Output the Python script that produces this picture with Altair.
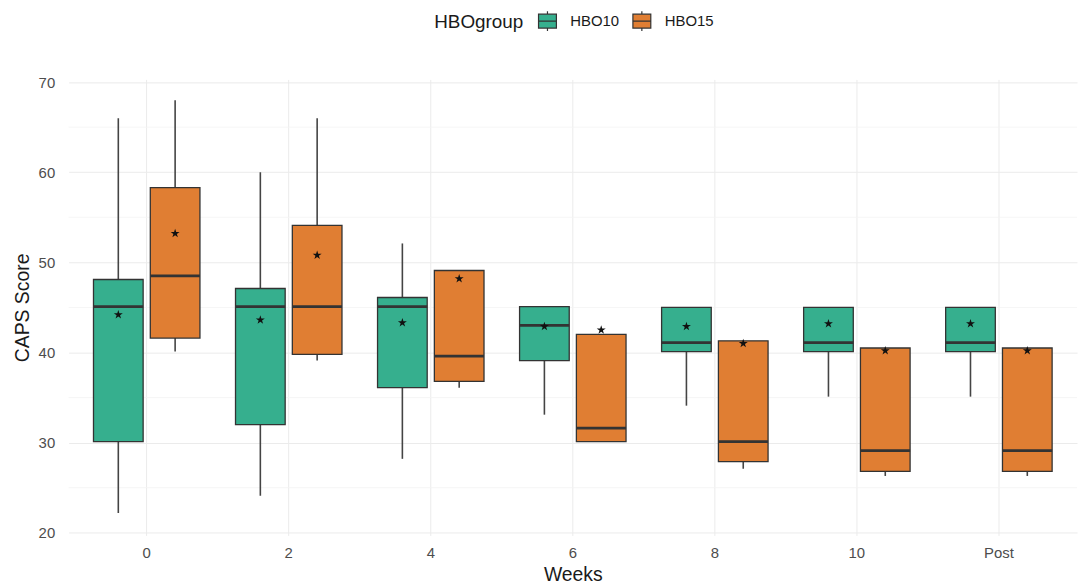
import altair as alt
import pandas as pd

weeks = ["0", "2", "4", "6", "8", "10", "Post"]
groups = ["HBO10", "HBO15"]

hbo10_min = [22.2, 24.1, 28.2, 33.1, 34.1, 35.1, 35.1]
hbo10_q1 = [30.1, 32.0, 36.1, 39.1, 40.1, 40.1, 40.1]
hbo10_med = [45.1, 45.1, 45.1, 43.0, 41.1, 41.1, 41.1]
hbo10_q3 = [48.1, 47.1, 46.1, 45.1, 45.0, 45.0, 45.0]
hbo10_max = [66.0, 60.0, 52.1, 45.1, 45.0, 45.0, 45.0]
hbo10_mean = [44.2, 43.6, 43.3, 42.9, 42.9, 43.2, 43.2]

hbo15_min = [40.1, 39.1, 36.1, 30.1, 27.1, 26.3, 26.3]
hbo15_q1 = [41.6, 39.8, 36.8, 30.1, 27.9, 26.8, 26.8]
hbo15_med = [48.5, 45.1, 39.6, 31.6, 30.1, 29.1, 29.1]
hbo15_q3 = [58.3, 54.1, 49.1, 42.0, 41.3, 40.5, 40.5]
hbo15_max = [68.0, 66.0, 49.1, 42.0, 41.3, 40.5, 40.5]
hbo15_mean = [53.2, 50.8, 48.2, 42.5, 41.0, 40.2, 40.2]

minor_grid = [25, 35, 45, 55, 65]

rows = []
for g, mn, q1, md, q3, mx, me in [
    ("HBO10", hbo10_min, hbo10_q1, hbo10_med, hbo10_q3, hbo10_max, hbo10_mean),
    ("HBO15", hbo15_min, hbo15_q1, hbo15_med, hbo15_q3, hbo15_max, hbo15_mean),
]:
    for i, w in enumerate(weeks):
        rows.append(dict(week=w, group=g, lo=mn[i], q1=q1[i], med=md[i],
                         q3=q3[i], hi=mx[i], mean=me[i]))
df = pd.DataFrame(rows)

colors = ["#36AF8E", "#E07E33"]
FONT = "Liberation Sans"

x = alt.X("week:N", sort=weeks, title="Weeks",
          scale=alt.Scale(paddingInner=0, paddingOuter=0.05),
          axis=alt.Axis(labelAngle=0, grid=True))
xo = alt.XOffset("group:N", sort=groups,
                 scale=alt.Scale(paddingInner=0.126, paddingOuter=0.313))
yscale = alt.Scale(domain=[19.7, 70.3], nice=False, zero=False)

base = alt.Chart(df)

minor = alt.Chart(pd.DataFrame({"v": minor_grid})).mark_rule(
    color="#F4F4F4", strokeWidth=0.8
).encode(y=alt.Y("v:Q", scale=yscale))

whisk = base.mark_rule(color="#444444", strokeWidth=1.6).encode(
    x=x, xOffset=xo,
    y=alt.Y("lo:Q", scale=yscale, title="CAPS Score",
            axis=alt.Axis(values=[20, 30, 40, 50, 60, 70], grid=True)),
    y2="hi:Q",
)

box = base.mark_bar(stroke="#333333", strokeWidth=1.3).encode(
    x=x, xOffset=xo,
    y=alt.Y("q1:Q", scale=yscale),
    y2="q3:Q",
    color=alt.Color(
        "group:N", sort=groups, scale=alt.Scale(domain=groups, range=colors),
        legend=alt.Legend(
            title="HBOgroup", orient="none", direction="horizontal",
            titleOrient="left", legendX=368, legendY=-70,
            symbolType="M-0.9,-0.7H0.9V0.7H-0.9Z M-0.9,0H0.9 M0,-0.7V-1 M0,0.7V1",
            symbolStrokeColor="#333333", symbolStrokeWidth=1.2, symbolSize=400,
            symbolOpacity=1, labelFontSize=15, titleFontSize=19,
            titleFontWeight="normal", labelColor="#1A1A1A", titleColor="#1A1A1A",
            columnPadding=10, titlePadding=13, labelOffset=12,
        ),
    ),
)

median = base.mark_bar(stroke="#333333", strokeWidth=2.8).encode(
    x=x, xOffset=xo,
    y=alt.Y("med:Q", scale=yscale),
    y2="med:Q",
)

star = "M0,-1L0.2245,-0.309L0.951,-0.309L0.363,0.118L0.588,0.809L0,0.382L-0.588,0.809L-0.363,0.118L-0.951,-0.309L-0.2245,-0.309Z"
means = base.mark_point(shape=star, filled=True, color="#111111", size=90, opacity=1).encode(
    x=x, xOffset=xo,
    y=alt.Y("mean:Q", scale=yscale),
)

chart = alt.layer(minor, whisk, box, median, means).properties(
    width=1015, height=459,
    padding={"top": 0, "left": 4, "right": 0, "bottom": 0},
).configure(font=FONT).configure_view(stroke=None).configure_axis(
    domain=False, ticks=False, gridColor="#EBEBEB", gridWidth=1,
    labelColor="#4D4D4D", labelFontSize=15, labelFont=FONT,
    titleFont=FONT, titleFontSize=19.5, titleFontWeight="normal", titleColor="#1A1A1A",
).configure_axisX(labelPadding=10, titlePadding=5).configure_axisY(
    labelPadding=14, titlePadding=6
).configure_legend(labelFont=FONT, titleFont=FONT)

chart.save("out.html", embed_options={"renderer": "svg", "actions": False})
